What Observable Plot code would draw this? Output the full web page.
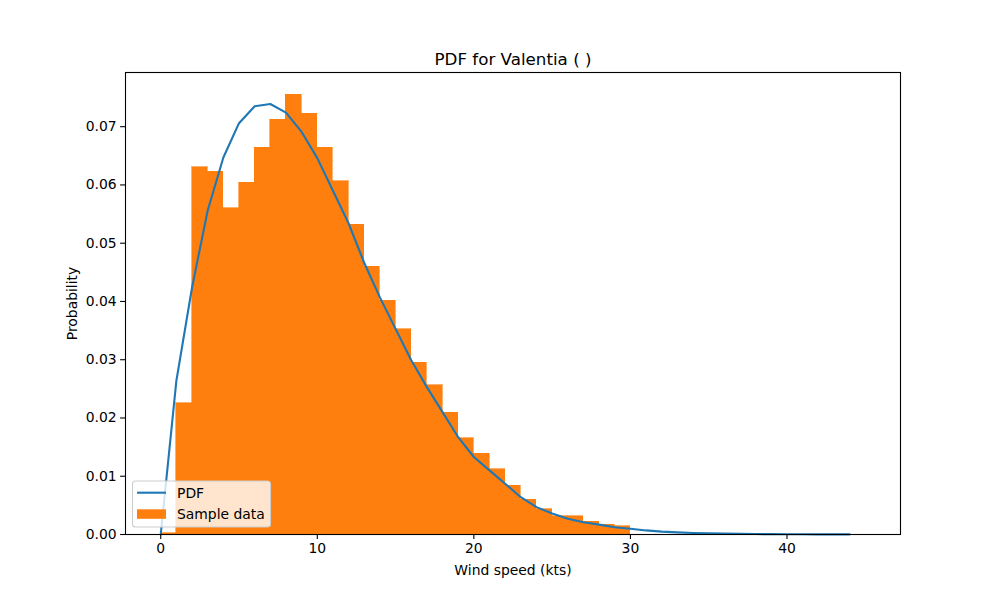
<!DOCTYPE html>
<html>
<head>
<meta charset="utf-8">
<script src="https://cdn.jsdelivr.net/npm/d3@7"></script>
<script src="https://cdn.jsdelivr.net/npm/@observablehq/plot@0.6"></script>
<style>
  html, body { margin: 0; padding: 0; background: #fff; }
  #chart svg { display: block; }
</style>
</head>
<body>
<div id="chart"></div>
<script>
// Histogram bins: left edges (kts), bin width 1
const binEdges = [0,1,2,3,4,5,6,7,8,9,10,11,12,13,14,15,16,17,18,19,20,21,22,23,24,25,26,27,28,29];
const binProb = [0.0002,0.0225,0.0630,0.0623,0.0560,0.0604,0.0664,0.0712,0.0755,0.0722,
                 0.0664,0.0606,0.0532,0.0460,0.0401,0.0352,0.0295,0.0256,0.0209,0.0165,
                 0.0139,0.0112,0.0084,0.0060,0.0043,0.0031,0.0031,0.0022,0.0017,0.0014];
// Fitted PDF
const pdfX = [0,1,2,3,4,5,6,7,8,9,10,11,12,13,14,15,16,17,18,19,20,21,22,23,24,25,26,27,28,29,30,31,32,33,34,35,36,37,38,39,40,41,42,43,44];
const pdfY = [0,0.0264,0.0424,0.0556,0.0647,0.0706,0.0735,0.0739,0.0724,0.0691,
              0.0646,0.0590,0.0534,0.0466,0.0407,0.0353,0.0299,0.0253,0.0210,0.0167,
              0.0133,0.0110,0.0087,0.0064,0.0047,0.0036,0.0027,0.0021,0.0017,0.00125,
              0.0010,0.0007,0.0005,0.00037,0.00027,0.0002,0.00015,0.00011,0.00008,0.00006,
              0.00005,0.00004,0.00003,0.00002,0.00002];
const xTicks = [0,10,20,30,40];
const yTicks = [0,0.01,0.02,0.03,0.04,0.05,0.06,0.07];
const titleText = "PDF for Valentia ( )";
const xLabel = "Wind speed (kts)";
const yLabel = "Probability";
const legendLabels = ["PDF", "Sample data"];

const bars = binEdges.map((e, i) => ({x1: e, x2: e + 1, y: binProb[i]}));
const pdf = pdfX.map((x, i) => ({x, y: pdfY[i]}));

const FONT = "DejaVu Sans, sans-serif";
const orange = "#ff7f0e", blue = "#1f77b4";

const chart = Plot.plot({
  width: 1000,
  height: 600,
  marginLeft: 125,
  marginRight: 100,
  marginTop: 72,
  marginBottom: 66,
  style: {fontFamily: FONT, fontSize: "13.9px", background: "#fff", color: "#000"},
  x: {domain: [-2.25, 47.25]},
  y: {domain: [0, 0.0793]},
  marks: [
    Plot.rectY(bars, {x1: "x1", x2: "x2", y: "y", fill: orange, stroke: orange, strokeWidth: 0.6, inset: 0, shapeRendering: "crispEdges"}),
    Plot.line(pdf, {x: "x", y: "y", stroke: blue, strokeWidth: 2.1}),
    Plot.frame({stroke: "#000", strokeWidth: 1.1}),
    Plot.axisX({ticks: xTicks, tickFormat: d => String(d), tickSize: 4.9, tickPadding: 4, strokeWidth: 1.1,
      fontSize: 13.9, label: xLabel, labelAnchor: "center", labelArrow: "none", labelOffset: 40}),
    Plot.axisY({ticks: yTicks, tickFormat: d3.format(".2f"), tickSize: 4.9, tickPadding: 4, strokeWidth: 1.1,
      fontSize: 13.9, label: yLabel, labelAnchor: "center", labelArrow: "none", labelOffset: 58}),
    Plot.text([titleText], {frameAnchor: "top", lineAnchor: "bottom", dy: -8, fontSize: 16.7, fill: "#000"})
  ]
});

document.getElementById("chart").appendChild(chart);

// Legend (matplotlib-style box, lower left inside axes)
const svg = d3.select(chart);
const lg = svg.append("g").attr("font-family", FONT).attr("font-size", 13.9).attr("text-anchor", "start");
lg.append("rect").attr("x", 132.5).attr("y", 481).attr("width", 138).attr("height", 46)
  .attr("rx", 3).attr("fill", "#fff").attr("fill-opacity", 0.8).attr("stroke", "#cccccc").attr("stroke-width", 1.1);
lg.append("line").attr("x1", 137).attr("x2", 166).attr("y1", 492.7).attr("y2", 492.7)
  .attr("stroke", blue).attr("stroke-width", 2.1);
lg.append("rect").attr("x", 137).attr("y", 509.3).attr("width", 29).attr("height", 9.5).attr("fill", orange);
lg.append("text").attr("x", 177).attr("y", 493).attr("dominant-baseline", "central").attr("text-anchor", "start").attr("fill", "#000").text(legendLabels[0]);
lg.append("text").attr("x", 177).attr("y", 514).attr("dominant-baseline", "central").attr("text-anchor", "start").attr("fill", "#000").text(legendLabels[1]);
</script>
</body>
</html>
